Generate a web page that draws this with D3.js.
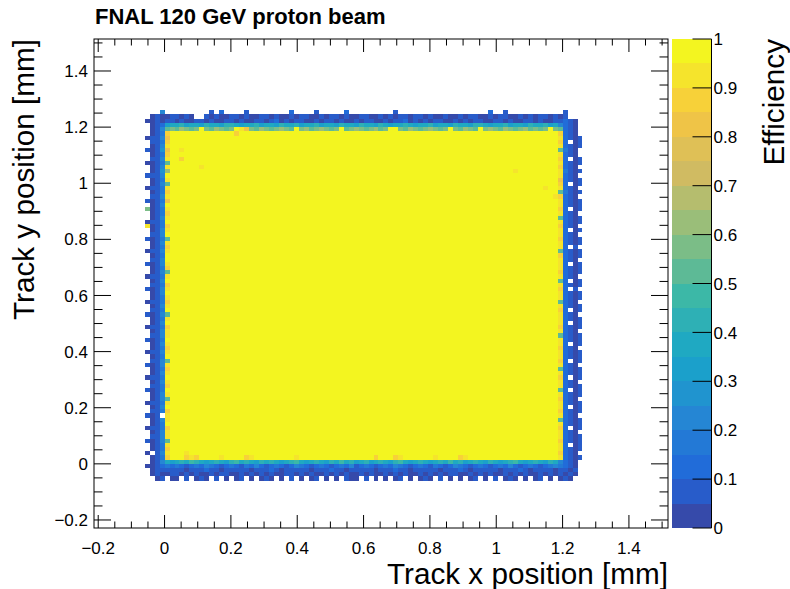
<!DOCTYPE html>
<html><head><meta charset="utf-8">
<script src="https://cdn.jsdelivr.net/npm/d3@7"></script>
<style>
body{margin:0;background:#fff}
svg{display:block}
text{font-family:"Liberation Sans",Arial,Helvetica,sans-serif;fill:#000}
</style>
</head><body>
<svg id="c" width="790" height="589"></svg>
<script>
// ---------------- data ----------------
const titleText = "FNAL 120 GeV proton beam";
const xTitle = "Track x position [mm]";
const yTitle = "Track y position [mm]";
const zTitle = "Efficiency";
const xTicks = [-0.2, 0, 0.2, 0.4, 0.6, 0.8, 1, 1.2, 1.4];
const yTicks = [-0.2, 0, 0.2, 0.4, 0.6, 0.8, 1, 1.2, 1.4];
const zTicks = [0, 0.1, 0.2, 0.3, 0.4, 0.5, 0.6, 0.7, 0.8, 0.9, 1];
const tickLabels = ["\u22120.2", "0", "0.2", "0.4", "0.6", "0.8", "1", "1.2", "1.4"];
const zTickLabels = ["0", "0.1", "0.2", "0.3", "0.4", "0.5", "0.6", "0.7", "0.8", "0.9", "1"];
// histogram binning (mm)
const xFirstEdge = -0.06, yTopEdge = 1.275, binW = 0.015, binH = 0.015;
// efficiency class per cell, rows from top: '.' = empty bin, a..t = efficiency class 0..19 (0.05 wide);
// a letter may be followed by a repeat count
const effRows = [
".88",
".3e.9b.c.4b.8c.4b.5c.9b.18c.2b.11b.3",
"." + "abaabbaba" + ".." + "babaabbaba" + "abbabaabab" + "baababbaba" + "abbaababab" + "babbabaaba" + "ababbaabab" + "baabababba" + "bab" + ".3",
"a" + "ababbabaab" + "babaabbaba" + "abbabcabab" + "baababbaba" + "ababbaabab" + "bcabababba" + "abababbaab" + "babaabbaba" + "abbcba" + ".",
".abc" + "ghhighhgih" + "hgiihghhig" + "hhgihhighh" + "ighhgihhgi" + "hhgihghhih" + "ghhighhgih" + "hgiihghhig" + "hhgihhigh" + "ecba" + ".",
".abek" + "lkmlkltlkm" + "lkltsqlkml" + "klmlktlmkl" + "mlkltklmlk" + "lmklttlkml" + "klmlkltlkm" + "lktlmlkmlk" + "lmklkltl" + "kcba.",
".abdrt13rt64rcba.",
"abbeqt78scbab",
".bbdrt78rc.ab",
".abest78scbab",
"babfqt2st75kdba.",
".abdrt78scba.",
".bbest2rt75rc.ab",
"aabdkt78scbab",
".abest6st71rcba.",
".abfmt69st8sdbab",
"bbbett78scba.",
".abdst78qcbab",
".abekt78rc.ab",
"abbdst75st2scba.",
".abdrt78kdbab",
".bbest77srcba.",
"babdqt78scbab",
".abett78scbab",
"labdst78rc.ab",
".abdrt78scba.",
".abest78kcbab",
"abbdtt78scbab",
"sabdrt78rcba.",
".abest78sc.ab",
".bbett78scba.",
"babdkt78rcbab",
".abest78scbab",
".abdrt78sc.b.",
"abbest78kcbab",
".abdtt78rcbab",
".bbett78scba.",
"babest78sc.ab",
".abdrt78scbab",
".abekt78rcbab",
"abbdst78scba.",
".abett78kc.ab",
".bbdrt78scbab",
"babest78rc.b.",
".abett78scbab",
".abdst78scbab",
"abbdrt78kcba.",
".abest78scbab",
".bbdtt78rc.ab",
"babekt78scba.",
".abdst78scbab",
".abett78sc.ab",
"abbdrt78rcbab",
".abest78scba.",
".bbest78kcbab",
"babdtt78scbab",
".abest78sc.ab",
".abdrt78rcba.",
"abbest78scbab",
".abdtt78scbab",
".bbekt78rc.ab",
"babest78scba.",
".abdrt78kcbab",
".abest78scbab",
"abbdtt78rc.ab",
".abest78scba.",
".bbdrt78scbab",
"babdtt78kc.ab",
".abest78scbab",
".abekt78rcba.",
"abbdst78scbab",
".abett78sc.ab",
".bbdrt78rcbab",
"bab.st78scba.",
".abest78kcbab",
".abdtt78scbab",
"abbdrt78rc.ab",
".abest78scba.",
".bbest78scbab",
"babekt78rcbab",
".abdst78sc.ab",
".abdrt78scbab",
"a.best3st74rcba.",
".abdrt3rsrt4st4rst8st15rt3rst6st4rst18scbab",
".abeh" + "ghihjihghi" + "hgijhihgih" + "ihghijhghi" + "hgihjhighi" + "ghihgijhgh" + "ihghihjhig" + "hihgihghij" + "hghihgih" + "ecba.",
"aabcd" + "cdcbcdcedc" + "bcdcbdcecb" + "cdcbcedcbc" + "dcbcdcebcd" + "cbcdcedcbc" + "dcbdcbcedc" + "bcdcbcdcec" + "bcdcbcde" + "dcba.",
".abbb" + "bbbabbbcbb" + "abbbbbabbb" + "cbabbbbbab" + "bbcbbabbbb" + "babbbcbbab" + "bbbbabbbcb" + "abbbbbabbb" + "cbabbbba" + "bbab.",
"." + "abaabbabab" + "aababbaaba" + "bababaabba" + "babaababab" + "aababaabab" + "abaabababa" + "bbaabababa" + "abababaaba" + "bababa" + ".",
".." + "ab.aa.b.ab" + "a.b.a.ab.a" + ".aba.a.b.a" + ".ab.a.a.ba" + "a.b.a.a.ab" + ".a.aba.b.a" + ".a.ab.a.b." + "aba.a.ab.a" + ".a" + "ba.."
];

// ---------------- palette (ROOT kBird) ----------------
const birdStops = [0, 0.125, 0.25, 0.375, 0.5, 0.625, 0.75, 0.875, 1];
const birdR = [0.2082, 0.0592, 0.0780, 0.0232, 0.1802, 0.5301, 0.8186, 0.9956, 0.9764];
const birdG = [0.1664, 0.3599, 0.5041, 0.6419, 0.7178, 0.7492, 0.7328, 0.7862, 0.9832];
const birdB = [0.5293, 0.8684, 0.8385, 0.7914, 0.6425, 0.4662, 0.3499, 0.1968, 0.0539];
const bird = d3.scaleLinear().domain(birdStops)
  .range(birdStops.map((s, i) => d3.rgb(birdR[i] * 255, birdG[i] * 255, birdB[i] * 255).toString()))
  .interpolate(d3.interpolateRgb);
const nLevels = 20;
function levelColor(l) {
  const idx = Math.min(254, Math.floor((l + 0.99) * 255 / nLevels));
  return d3.interpolateRgb(bird(idx / 254), "#bdbdbd")(0.1);
}

// decode rows
const levelChars = "abcdefghijklmnopqrst";
const cells = [];
effRows.forEach((row, r) => {
  let c = 0;
  const re = /([a-t.])(\d*)/g; let m;
  while ((m = re.exec(row)) !== null) {
    const n = m[2] ? +m[2] : 1;
    for (let k = 0; k < n; k++) {
      if (m[1] !== ".") cells.push({ r, c, eff: (levelChars.indexOf(m[1]) + 0.5) / nLevels });
      c++;
    }
  }
});

// ---------------- layout ----------------
const svg = d3.select("#c");
const L = 94, R = 668, T = 39, B = 528;
const x = d3.scaleLinear().domain([-0.2127, 1.5178]).range([L, R]);
const y = d3.scaleLinear().domain([-0.2286, 1.514]).range([B, T]);
const z = d3.scaleLinear().domain([0, 1]).range([B, T]);

// heat map cells
svg.append("g").attr("shape-rendering", "crispEdges").selectAll("rect").data(cells).join("rect")
  .attr("x", d => x(xFirstEdge + d.c * binW))
  .attr("y", d => y(yTopEdge - d.r * binH))
  .attr("width", d => x(xFirstEdge + (d.c + 1) * binW) - x(xFirstEdge + d.c * binW))
  .attr("height", d => y(yTopEdge - (d.r + 1) * binH) - y(yTopEdge - d.r * binH))
  .attr("fill", d => levelColor(Math.min(nLevels - 1, Math.floor(d.eff * nLevels))));

// frame
svg.append("rect").attr("x", L).attr("y", T).attr("width", R - L).attr("height", B - T)
  .attr("fill", "none").attr("stroke", "#000").attr("stroke-width", 1);

// ticks
const minorX = d3.range(-0.2, 1.52, 0.05).map(v => +v.toFixed(3));
const minorY = d3.range(-0.2, 1.515, 0.05).map(v => +v.toFixed(3));
const tg = svg.append("g").attr("stroke", "#000").attr("stroke-width", 1);
const xMaj = 13, xMin = 6.5, yMaj = 17, yMin = 8.5;
minorX.forEach(v => {
  const isMaj = xTicks.some(t => Math.abs(t - v) < 1e-6);
  const len = isMaj ? xMaj : xMin, px = x(v);
  tg.append("line").attr("x1", px).attr("x2", px).attr("y1", B).attr("y2", B - len);
  tg.append("line").attr("x1", px).attr("x2", px).attr("y1", T).attr("y2", T + len);
});
minorY.forEach(v => {
  const isMaj = yTicks.some(t => Math.abs(t - v) < 1e-6);
  const len = isMaj ? yMaj : yMin, py = y(v);
  tg.append("line").attr("y1", py).attr("y2", py).attr("x1", L).attr("x2", L + len);
  tg.append("line").attr("y1", py).attr("y2", py).attr("x1", R).attr("x2", R - len);
});

// tick labels
const fs = 17;
svg.append("g").selectAll("text").data(xTicks).join("text")
  .attr("x", d => x(d)).attr("y", 554).attr("text-anchor", "middle")
  .attr("font-size", fs).text((d, i) => tickLabels[i]);
svg.append("g").selectAll("text").data(yTicks).join("text")
  .attr("x", 88).attr("y", d => y(d)).attr("dy", "0.36em").attr("text-anchor", "end")
  .attr("font-size", fs).text((d, i) => tickLabels[i]);

// colour bar
const cbL = 671.5, cbR = 711.5;
svg.append("g").attr("shape-rendering", "crispEdges").selectAll("rect").data(d3.range(nLevels)).join("rect")
  .attr("x", cbL).attr("width", cbR - cbL)
  .attr("y", l => z((l + 1) / nLevels)).attr("height", l => z(l / nLevels) - z((l + 1) / nLevels))
  .attr("fill", l => levelColor(l));
svg.append("line").attr("x1", cbR).attr("x2", cbR).attr("y1", T).attr("y2", B).attr("stroke", "#000");
svg.append("g").selectAll("line").data(zTicks).join("line")
  .attr("x1", cbR - 19).attr("x2", cbR).attr("y1", d => z(d)).attr("y2", d => z(d))
  .attr("stroke", "#000");
svg.append("g").selectAll("text").data(zTicks).join("text")
  .attr("x", cbR + 2).attr("y", d => z(d)).attr("dy", "0.36em")
  .attr("font-size", fs).text((d, i) => zTickLabels[i]);

// titles
svg.append("text").attr("x", 95).attr("y", 24).attr("font-size", 22).attr("font-weight", "bold").text(titleText);
svg.append("text").attr("x", R).attr("y", 584).attr("text-anchor", "end").attr("font-size", 29.7).text(xTitle);
svg.append("text").attr("transform", `translate(34,${T}) rotate(-90)`).attr("text-anchor", "end")
  .attr("font-size", 29.7).text(yTitle);
svg.append("text").attr("transform", `translate(784,${T}) rotate(-90)`).attr("text-anchor", "end")
  .attr("font-size", 29.7).text(zTitle);
</script>
</body></html>
